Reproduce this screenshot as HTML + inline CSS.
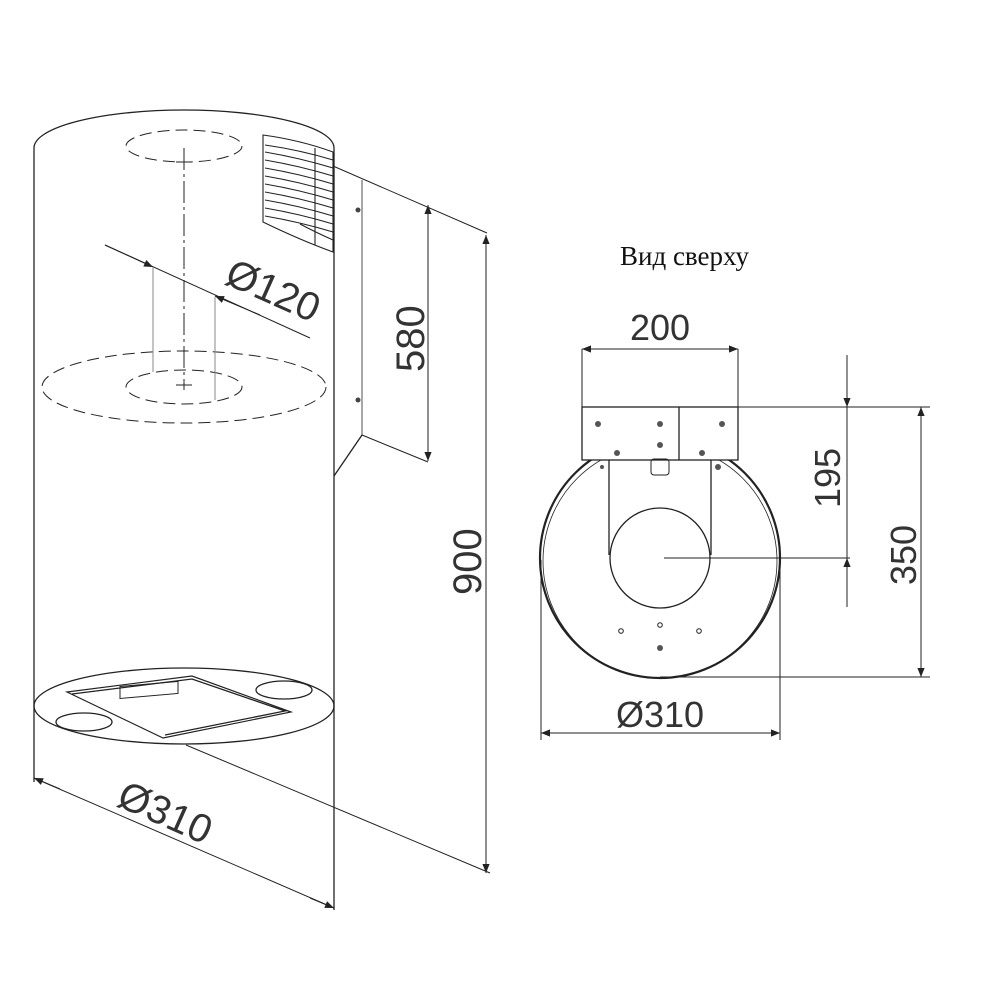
<!DOCTYPE html>
<html><head><meta charset="utf-8"><style>html,body{margin:0;padding:0;background:#fff}svg{display:block}</style></head>
<body>
<svg width="1000" height="1000" viewBox="0 0 1000 1000" xmlns="http://www.w3.org/2000/svg" font-family="Liberation Sans, sans-serif">
<defs>
<marker id="a" viewBox="0 0 10 10" refX="10" refY="5" markerWidth="20" markerHeight="9" markerUnits="userSpaceOnUse" orient="auto"><path d="M0,1 L10,5 L0,9 Z" fill="#222"/></marker>
</defs>
<g fill="none" stroke="#222" stroke-width="1.3">
<!-- cylinder -->
<path d="M34,148 A150,38 0 0 1 334,148"/>
<line x1="34" y1="148" x2="34" y2="782"/>
<line x1="334" y1="148" x2="334" y2="910"/>
<ellipse cx="184" cy="706" rx="150" ry="38"/>
<g stroke-dasharray="12,6" stroke-width="1">
<ellipse cx="184" cy="146" rx="58" ry="16"/>
<ellipse cx="184" cy="387" rx="142" ry="36"/>
<ellipse cx="184" cy="387" rx="58" ry="17"/>
</g>
<line x1="184" y1="148" x2="184" y2="390" stroke-dasharray="22,4,3,4" stroke-width="1"/>
<line x1="176" y1="162" x2="192" y2="162" stroke-width="1"/>
<line x1="176" y1="385" x2="192" y2="385" stroke-width="1"/>
<line x1="153" y1="268" x2="153" y2="372" stroke="#888" stroke-width="1"/>
<line x1="215" y1="297" x2="215" y2="400" stroke="#888" stroke-width="1"/>
<line x1="105" y1="245" x2="310" y2="338" stroke-width="1"/>
<line x1="105" y1="245" x2="153" y2="267" marker-end="url(#a)" stroke-width="1"/>
<line x1="260" y1="315" x2="215" y2="296" marker-end="url(#a)" stroke-width="1"/>
<g stroke-width="1.1">
<path d="M263,135 Q300,140 333,152 L333,252 Q300,240 263,222 Z"/>
<line x1="315" y1="148" x2="315" y2="245"/>
<path d="M265,145 Q300,150 333,160 M265,152 Q300,158 333,168 M265,160 Q300,166 333,176 M265,168 Q300,174 333,184 M265,176 Q300,182 333,192 M265,184 Q300,190 333,200 M265,192 Q300,198 333,208 M265,200 Q300,206 333,216 M265,208 Q300,214 333,224 M265,216 Q300,222 333,232 M300,224 Q315,232 333,240"/>
</g>
<line x1="333" y1="166" x2="487" y2="233" stroke-width="1"/>
<line x1="362" y1="180" x2="362" y2="435" stroke="#777"/>
<line x1="362" y1="435" x2="428" y2="462" stroke-width="1"/>
<line x1="362" y1="435" x2="334" y2="476"/>
<line x1="428" y1="230" x2="428" y2="205" marker-end="url(#a)" stroke-width="1"/>
<line x1="428" y1="230" x2="428" y2="460" stroke-width="1"/>
<line x1="428" y1="440" x2="428" y2="461" marker-end="url(#a)" stroke-width="1"/>
<line x1="486" y1="260" x2="486" y2="235" marker-end="url(#a)" stroke-width="1"/>
<line x1="486" y1="260" x2="486" y2="870" stroke-width="1"/>
<line x1="486" y1="850" x2="486" y2="873" marker-end="url(#a)" stroke-width="1"/>
<line x1="186" y1="745" x2="490" y2="873" stroke-width="1"/>
<line x1="34" y1="778" x2="334" y2="908" stroke-width="1"/>
<line x1="60" y1="789" x2="34" y2="778" marker-end="url(#a)" stroke-width="1"/>
<line x1="310" y1="898" x2="334" y2="908" marker-end="url(#a)" stroke-width="1"/>
<path d="M67,692 L192,676 L291,712 L163,738 Z" stroke-width="1.2"/>
<path d="M72,694 L192,679 L285,711 L165,735"/>
<rect x="120" y="685" width="58" height="12" transform="skewY(-5) translate(0,12)" stroke-width="1"/>
<ellipse cx="84" cy="722" rx="28" ry="9"/>
<ellipse cx="284" cy="690" rx="28" ry="9"/>
</g>
<circle cx="358" cy="210" r="2.5" fill="#444"/>
<circle cx="358" cy="400" r="2.5" fill="#444"/>
<g fill="#333" font-size="40">
<text transform="translate(223,283) rotate(24)">Ø120</text>
<text transform="translate(424,372) rotate(-90)">580</text>
<text transform="translate(481,595) rotate(-90)">900</text>
<text transform="translate(115,805) rotate(24)">Ø310</text>
</g>
<text x="620" y="265" font-family="Liberation Serif, serif" font-size="27" fill="#111">Вид сверху</text>
<g fill="none" stroke="#222" stroke-width="1">
<line x1="582" y1="349" x2="582" y2="410"/>
<line x1="738" y1="349" x2="738" y2="410"/>
<line x1="610" y1="349" x2="582" y2="349" marker-end="url(#a)"/>
<line x1="610" y1="349" x2="710" y2="349"/>
<line x1="710" y1="349" x2="738" y2="349" marker-end="url(#a)"/>
<circle cx="660" cy="558" r="120" stroke-width="2.2"/>
<circle cx="660" cy="561" r="117" stroke-width="0.8"/>
<rect x="582" y="407" width="156" height="53" stroke-width="1.3" fill="#fff"/>
<line x1="679" y1="407" x2="679" y2="460" stroke-width="1.3"/>
<line x1="738" y1="407" x2="930" y2="407"/>
<circle cx="660" cy="558" r="50" stroke-width="1.3"/>
<line x1="609" y1="460" x2="609" y2="555" stroke-width="1.3"/>
<line x1="711" y1="460" x2="711" y2="555" stroke-width="1.3"/>
<rect x="651" y="459" width="18" height="16" rx="3"/>
<line x1="664" y1="558" x2="850" y2="558"/>
<line x1="660" y1="677" x2="930" y2="677"/>
<line x1="847" y1="355" x2="847" y2="407" marker-end="url(#a)"/>
<line x1="847" y1="407" x2="847" y2="558"/>
<line x1="847" y1="607" x2="847" y2="558" marker-end="url(#a)"/>
<line x1="921" y1="440" x2="921" y2="407" marker-end="url(#a)"/>
<line x1="921" y1="440" x2="921" y2="650"/>
<line x1="921" y1="650" x2="921" y2="677" marker-end="url(#a)"/>
<line x1="541" y1="560" x2="541" y2="740"/>
<line x1="780" y1="560" x2="780" y2="740"/>
<line x1="570" y1="733" x2="541" y2="733" marker-end="url(#a)"/>
<line x1="570" y1="733" x2="750" y2="733"/>
<line x1="750" y1="733" x2="780" y2="733" marker-end="url(#a)"/>
<circle cx="621" cy="631" r="2.3"/><circle cx="660" cy="625" r="2.3"/><circle cx="699" cy="631" r="2.3"/>
</g>
<g fill="#555">
<circle cx="598" cy="424" r="3"/><circle cx="660" cy="424" r="3"/><circle cx="722" cy="424" r="3"/><circle cx="660" cy="445" r="3"/>
<circle cx="617" cy="453" r="3"/><circle cx="702" cy="453" r="3"/><circle cx="602" cy="467" r="2"/><circle cx="718" cy="467" r="3"/><circle cx="660" cy="648" r="3"/>
</g>
<g fill="#333" font-size="36">
<text x="660" y="340" text-anchor="middle">200</text>
<text transform="translate(840,508) rotate(-90)">195</text>
<text transform="translate(916,585) rotate(-90)">350</text>
<text x="660" y="727" text-anchor="middle">Ø310</text>
</g>
</svg>
</body></html>
